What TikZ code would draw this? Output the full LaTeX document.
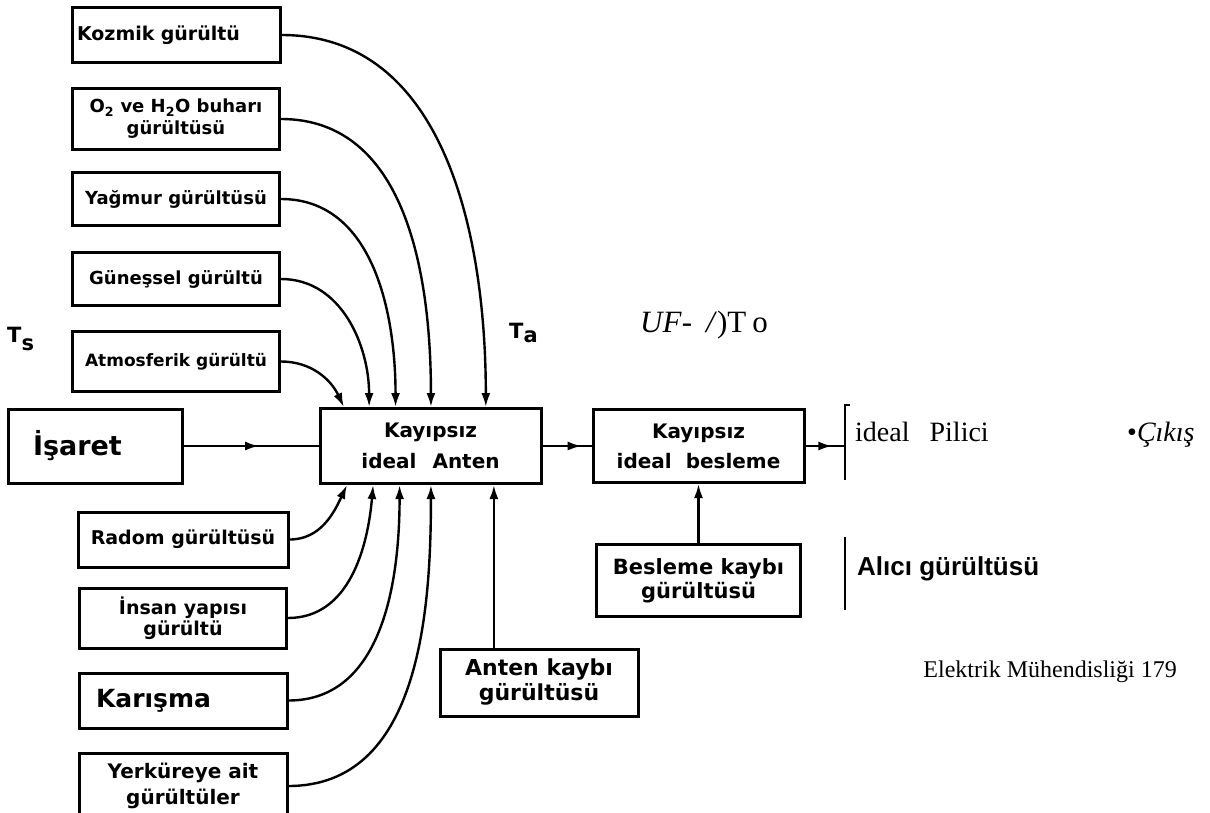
\documentclass[tikz,border=0pt]{standalone}
\usepackage{fontspec}
\setmainfont{Liberation Serif}
\newfontfamily\hand{DejaVu Sans}
\newfontfamily\arial{Liberation Sans}
\usetikzlibrary{calc, positioning, arrows.meta, decorations.markings}

\tikzset{
  box/.style={draw, line width=3pt, inner sep=2pt, align=center, font={\hand\bfseries\fontsize{18}{22}\selectfont}},
  conn/.style={line width=2.4pt},
  arr/.style={conn, -{Latex[length=14pt,width=9pt]}},
  midarr/.style={postaction={decorate}, decoration={markings, mark=at position #1 with {\arrow{Latex[length=14pt,width=9pt]}}}},
  brk/.style={line width=2.2pt},
  lbl/.style={anchor=base west, inner sep=0pt}
}

\begin{document}
\begin{tikzpicture}[x=1pt, y=-1pt]
        \useasboundingbox (0,0) rectangle (1210,812);

        % gurultu kaynaklari (ust)
        \node[box, minimum width=208pt, minimum height=55pt, text width=198pt, align=left, font={\hand\bfseries\fontsize{19}{22}\selectfont}](kozmik) at (176,35){Kozmik gürültü};
        \node[box, minimum width=207pt, minimum height=61pt](buhar)[below = 23pt of kozmik]{O\textsubscript{2} ve H\textsubscript{2}O buharı\\gürültüsü};
        \node[box, minimum width=207pt, minimum height=53pt](yagmur)[below = 20pt of buhar]{Yağmur gürültüsü};
        \node[box, minimum width=207pt, minimum height=53pt](gunes)[below = 24pt of yagmur]{Güneşsel gürültü};
        \node[box, minimum width=207pt, minimum height=60pt, font={\hand\bfseries\fontsize{17}{22}\selectfont}](atmos)[below = 23pt of gunes]{Atmosferik gürültü};

        % isaret yolu
        \node[box, minimum width=174pt, minimum height=74pt, text width=124pt, align=left, font={\hand\bfseries\fontsize{27}{30}\selectfont}](isaret) at (95,446){İşaret};
        \node[box, minimum width=221pt, minimum height=75pt, font={\hand\bfseries\fontsize{20}{31}\selectfont}](anten)[right = 135pt of isaret]{Kayıpsız\\ideal\hspace{16pt}Anten};
        \node[box, minimum width=211pt, minimum height=73pt, font={\hand\bfseries\fontsize{20}{30}\selectfont}](besleme)[right = 49pt of anten]{Kayıpsız\\ideal\hspace{14pt}besleme};

        % gurultu kaynaklari (alt)
        \node[box, minimum width=210pt, minimum height=55pt, font={\hand\bfseries\fontsize{19}{22}\selectfont}](radom) at (183,539.5){Radom gürültüsü};
        \node[box, minimum width=207pt, minimum height=60pt, font={\hand\bfseries\fontsize{19}{21}\selectfont}](insan)[below = 18pt of radom]{İnsan yapısı\\gürültü};
        \node[box, minimum width=208pt, minimum height=55pt, text width=174pt, align=left, font={\hand\bfseries\fontsize{25}{28}\selectfont}](karisma)[below = 22pt of insan]{Karışma};
        \node[box, minimum width=208pt, minimum height=66pt, font={\hand\bfseries\fontsize{20}{26}\selectfont}](yerkure)[below = 22pt of karisma]{Yerküreye ait\\gürültüler};

        \node[box, minimum width=198pt, minimum height=67pt, font={\hand\bfseries\fontsize{22}{25}\selectfont}](kaybi) at (539,682.5){Anten kaybı\\gürültüsü};
        \node[box, minimum width=204pt, minimum height=72pt, font={\hand\bfseries\fontsize{21}{24}\selectfont}](beskaybi)[below = 59pt of besleme]{Besleme kaybı\\gürültüsü};

        % etiketler
        \node[lbl, font={\hand\bfseries\fontsize{21}{24}\selectfont}](ts) at (7,342){T\raisebox{-8pt}{s}};
        \node[lbl, font={\hand\bfseries\fontsize{21}{24}\selectfont}](ta) at (509,338){T\raisebox{-4pt}{a}};
        \node[lbl, font={\fontsize{31}{34}\selectfont}](uf) at (640,332){\textit{UF}-\hspace{14pt}\textit{/})T\hspace{6pt}o};
        \node[lbl, font={\fontsize{28}{32}\selectfont}](pilici) at (855,441){ideal\hspace{20pt}Pilici};
        \node[lbl, font={\fontsize{28}{32}\selectfont}](cikis) at (1127,441){•\textit{Çıkış}};
        \node[lbl, font={\arial\bfseries\fontsize{26}{30}\selectfont}](alici) at (857,575){Alıcı gürültüsü};
        \node[anchor=base east, inner sep=0pt, font={\fontsize{24}{28}\selectfont}](sayfa) at (1177,677){Elektrik Mühendisliği 179};

        % anten kenarindaki giris noktalari
        \coordinate (t1) at ($(anten.north west)!0.113!(anten.north east)$);
        \coordinate (t2) at ($(anten.north west)!0.226!(anten.north east)$);
        \coordinate (t3) at ($(anten.north west)!0.344!(anten.north east)$);
        \coordinate (t4) at ($(anten.north west)!0.502!(anten.north east)$);
        \coordinate (t5) at ($(anten.north west)!0.747!(anten.north east)$);
        \coordinate (b1) at ($(anten.south west)!0.127!(anten.south east)$);
        \coordinate (b2) at ($(anten.south west)!0.244!(anten.south east)$);
        \coordinate (b3) at ($(anten.south west)!0.362!(anten.south east)$);
        \coordinate (b4) at ($(anten.south west)!0.502!(anten.south east)$);
        \coordinate (b5) at ($(anten.south west)!0.783!(anten.south east)$);
        \coordinate (pil) at (845,443);

        \path[every edge/.style={draw, arr}]
        (atmos.east) edge[out=0, in=115] (t1)
        (gunes.east) edge[out=0, in=90] (t2)
        (yagmur.east) edge[out=0, in=90] (t3)
        (buhar.east) edge[out=0, in=90] (t4)
        (kozmik.east) edge[out=0, in=90] (t5)
        (radom.east) edge[out=0, in=-115] (b1)
        (insan.east) edge[out=0, in=-95] (b2)
        (karisma.east) edge[out=0, in=-90] (b3)
        (yerkure.east) edge[out=0, in=-90] (b4);

        \draw[arr] (b5 |- kaybi.north) -- (b5);
        \draw[arr] (beskaybi) -- (beskaybi |- besleme.south);

        \draw[conn, midarr=0.56] (isaret) -- (anten);
        \draw[conn, midarr=0.8] (anten) -- (besleme);
        \draw[conn, midarr=0.68] (besleme.east) -- (besleme.east -| pil);

        % alici parantezleri
        \draw[brk] (850,405) -- (845,405) -- (845,480);
        \draw[brk] (845,537) -- (845,610);
\end{tikzpicture}
\end{document}
